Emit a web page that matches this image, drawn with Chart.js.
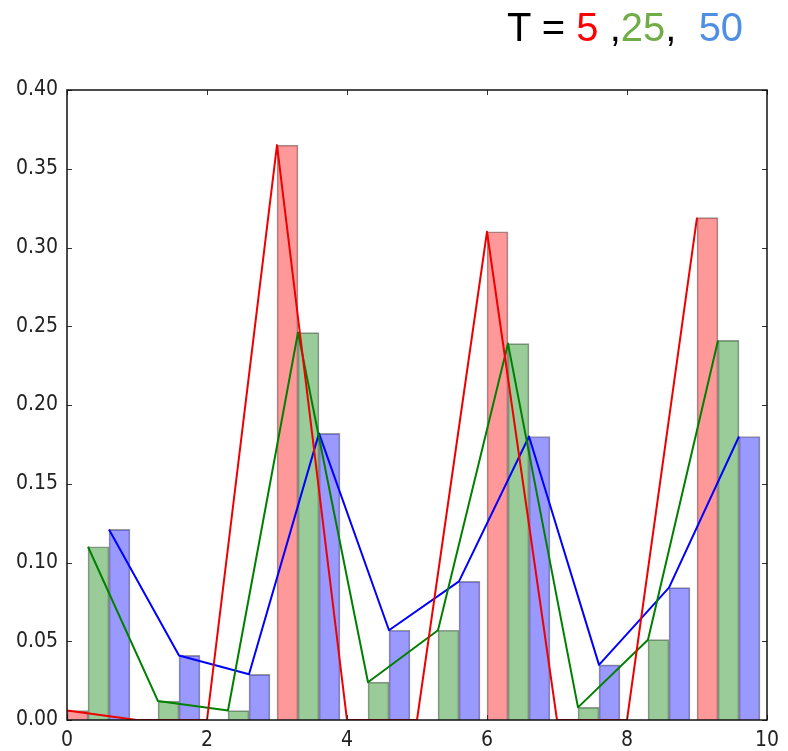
<!DOCTYPE html>
<html>
<head>
<meta charset="utf-8">
<script src="https://cdn.jsdelivr.net/npm/chart.js@4"></script>
<style>
  body { margin: 0; background: #fff; }
  #wrap { position: relative; width: 788px; height: 751px; }
  #myChart { position: absolute; left: 0; top: 0; }
  #title {
    position: absolute; left: 507px; top: 7px;
    font-family: "Liberation Sans", Arial, sans-serif;
    font-size: 40px; line-height: 1; white-space: pre; color: #000;
  }
</style>
</head>
<body>
<div id="wrap">
  <canvas id="myChart" width="788" height="751"></canvas>
  <div id="title">T = <span style="color:#ff0000">5</span> ,<span style="color:#70ad47">25</span>,  <span style="color:#4f8fe3">50</span></div>
</div>
<script>
// data
const positions = [0, 1, 2, 3, 4, 5, 6, 7, 8, 9];
const t5 = [0.006, 0, 0, 0.365, 0, 0, 0.310, 0, 0, 0.319];
const t25 = [0.110, 0.012, 0.006, 0.246, 0.024, 0.057, 0.239, 0.008, 0.051, 0.241];
const t50 = [0.121, 0.041, 0.029, 0.182, 0.057, 0.088, 0.180, 0.035, 0.084, 0.180];
const xTicks = [0, 2, 4, 6, 8, 10];
const yTicks = [0, 0.05, 0.10, 0.15, 0.20, 0.25, 0.30, 0.35, 0.40];
const barWidth = 0.3;

const tickFont = { family: "'DejaVu Sans Condensed', 'DejaVu Sans', sans-serif", size: 21 };

// bar k sits at [i + k*w, i + (k+1)*w], line point at its left edge
function barPoints(vals, k) {
  return positions.map((p, i) => ({ x: p + k * barWidth + barWidth / 2, y: vals[i] }));
}
function linePoints(vals, k) {
  return positions.map((p, i) => ({ x: p + k * barWidth, y: vals[i] }));
}

const series = [
  { vals: t5, fill: "rgba(255, 0, 0, 0.4)", line: "#ee0000" },
  { vals: t25, fill: "rgba(0, 128, 0, 0.4)", line: "#008000" },
  { vals: t50, fill: "rgba(0, 0, 255, 0.4)", line: "#0000ff" },
];

const datasets = [];
series.forEach((s, k) => {
  datasets.push({
    type: "bar",
    data: barPoints(s.vals, k),
    backgroundColor: s.fill,
    borderColor: "rgba(0, 0, 0, 0.4)",
    borderWidth: 1,
    grouped: false,
    barPercentage: 1,
    categoryPercentage: 1,
    order: 2,
  });
});
series.forEach((s, k) => {
  datasets.push({
    type: "line",
    data: linePoints(s.vals, k),
    borderColor: s.line,
    borderWidth: 2,
    borderJoinStyle: "round",
    pointRadius: 0,
    fill: false,
    tension: 0,
    order: 1,
  });
});

// matplotlib style frame with inward ticks on all four sides
const frame = {
  id: "frame",
  afterDraw(chart) {
    const { ctx, chartArea: a, scales: { x, y } } = chart;
    ctx.save();
    ctx.strokeStyle = "#333";
    ctx.lineWidth = 1;
    const seg = (x1, y1, x2, y2) => { ctx.beginPath(); ctx.moveTo(x1, y1); ctx.lineTo(x2, y2); ctx.stroke(); };
    x.ticks.forEach(t => {
      const px = Math.round(x.getPixelForValue(t.value)) + 0.5;
      seg(px, a.bottom, px, a.bottom - 5);
      seg(px, a.top, px, a.top + 5);
    });
    y.ticks.forEach(t => {
      const py = Math.round(y.getPixelForValue(t.value)) + 0.5;
      seg(a.left, py, a.left + 5, py);
      seg(a.right, py, a.right - 5, py);
    });
    ctx.lineWidth = 1.5;
    ctx.strokeStyle = "#111";
    ctx.strokeRect(a.left, a.top, a.right - a.left, a.bottom - a.top);
    ctx.restore();
  },
};

new Chart(document.getElementById("myChart"), {
  type: "bar",
  data: { datasets },
  plugins: [frame],
  options: {
    responsive: false,
    animation: false,
    layout: { padding: { left: 0, right: 21, top: 90, bottom: 0 } },
    plugins: { legend: { display: false }, tooltip: { enabled: false } },
    scales: {
      x: {
        type: "linear",
        min: 0,
        max: 10,
        offset: false,
        grid: { display: false, offset: false, drawTicks: false },
        border: { display: false },
        afterBuildTicks: s => { s.ticks = xTicks.map(v => ({ value: v })); },
        afterFit: s => { s.height = 31; },
        ticks: { font: tickFont, color: "#222", padding: 8, maxRotation: 0, callback: v => String(v) },
      },
      y: {
        min: 0,
        max: 0.4,
        grid: { display: false, drawTicks: false },
        border: { display: false },
        afterBuildTicks: s => { s.ticks = yTicks.map(v => ({ value: v })); },
        afterFit: s => { s.width = 67; },
        ticks: { font: tickFont, color: "#222", padding: 9, callback: v => v.toFixed(2) },
      },
    },
  },
});
</script>
</body>
</html>
